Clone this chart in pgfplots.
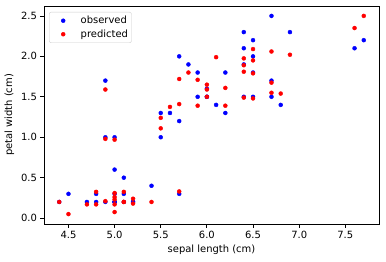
\documentclass[border=0pt]{standalone}
\usepackage{pgfplots}
\pgfplotsset{compat=1.18}
\usepackage{fontspec}
\setmainfont{DejaVu Sans}
\pgfplotstableread{
x y
4.4 0.2
4.5 0.3
4.7 0.2
4.8 0.3
4.8 0.2
4.9 0.2
4.9 1.0
4.9 1.7
5.0 0.2
5.0 0.2
5.0 0.3
5.0 0.2
5.0 0.6
5.0 1.0
5.1 0.5
5.1 0.3
5.1 0.2
5.2 0.2
5.2 0.2
5.4 0.4
5.5 1.3
5.5 1.0
5.6 1.3
5.7 0.3
5.7 1.2
5.7 2.0
5.8 1.9
5.9 1.8
5.9 1.5
6.0 1.6
6.0 1.5
6.0 1.5
6.1 1.4
6.2 1.3
6.2 1.8
6.4 2.3
6.4 2.1
6.4 1.9
6.4 1.5
6.5 2.2
6.5 2.0
6.5 1.8
6.5 1.5
6.7 2.5
6.7 1.7
6.7 1.5
6.8 1.4
6.9 2.3
7.6 2.1
7.7 2.2
}\observed
\pgfplotstableread{
x y
4.4 0.20
4.5 0.05
4.7 0.17
4.8 0.325
4.8 0.17
4.9 0.21
4.9 0.98
4.9 1.59
5.0 0.31
5.0 0.26
5.0 0.23
5.0 0.17
5.0 0.075
5.0 0.97
5.1 0.325
5.1 0.20
5.1 0.20
5.2 0.24
5.2 0.18
5.4 0.20
5.5 1.24
5.5 1.11
5.6 1.375
5.7 0.33
5.7 1.72
5.7 1.41
5.8 1.80
5.9 1.71
5.9 1.39
6.0 1.65
6.0 1.59
6.0 1.50
6.1 1.99
6.2 1.61
6.2 1.39
6.4 1.975
6.4 1.89
6.4 1.81
6.4 1.49
6.5 2.09
6.5 1.95
6.5 1.79
6.5 1.48
6.7 2.06
6.7 1.675
6.7 1.55
6.8 1.54
6.9 2.02
7.6 2.35
7.7 2.50
}\predicted
\begin{document}
\begin{tikzpicture}
\begin{axis}[
  name=ax,
  scale only axis,
  width=335bp, height=218bp,
  xmin=4.235, xmax=7.865,
  ymin=-0.0725, ymax=2.6225,
  font=\fontsize{10}{12}\selectfont,
  tick label style={font=\fontsize{10}{12}\selectfont},
  label style={font=\fontsize{10}{12}\selectfont},
  /pgf/number format/assume math mode=true,
  xtick={4.5,5,5.5,6,6.5,7,7.5},
  ytick={0,0.5,1,1.5,2,2.5},
  xticklabel style={/pgf/number format/.cd,fixed,fixed zerofill,precision=1},
  yticklabel style={/pgf/number format/.cd,fixed,fixed zerofill,precision=1},
  tick align=outside, tick pos=left,
  major tick length=3.5bp,
  every tick/.style={black, line width=0.8pt},
  axis line style={line width=0.8pt},
  xlabel={sepal length (cm)},
  ylabel={petal width (cm)},
  legend style={at={(0.015,0.9725)}, anchor=north west, draw=black!20,
    rounded corners=2pt, font=\fontsize{10}{12}\selectfont,
    inner xsep=2pt, inner ysep=2.5pt, row sep=1.5pt,
    nodes={inner sep=1.5pt}},
  legend cell align=left,
  legend image code/.code={\path[draw=none,fill=none] (0bp,-3bp) rectangle (28bp,3bp);
    \fill[#1] (12bp,0bp) circle (2pt);},
]
\addplot[only marks, mark=*, mark size=2pt, color=blue] table {\observed};
\addlegendentry{observed}
\addplot[only marks, mark=*, mark size=2pt, color=red] table {\predicted};
\addlegendentry{predicted}
\end{axis}
\pgfresetboundingbox
\path ([shift={(-44bp,-38bp)}]ax.south west) rectangle ([shift={(7bp,6bp)}]ax.north east);
\end{tikzpicture}
\end{document}
